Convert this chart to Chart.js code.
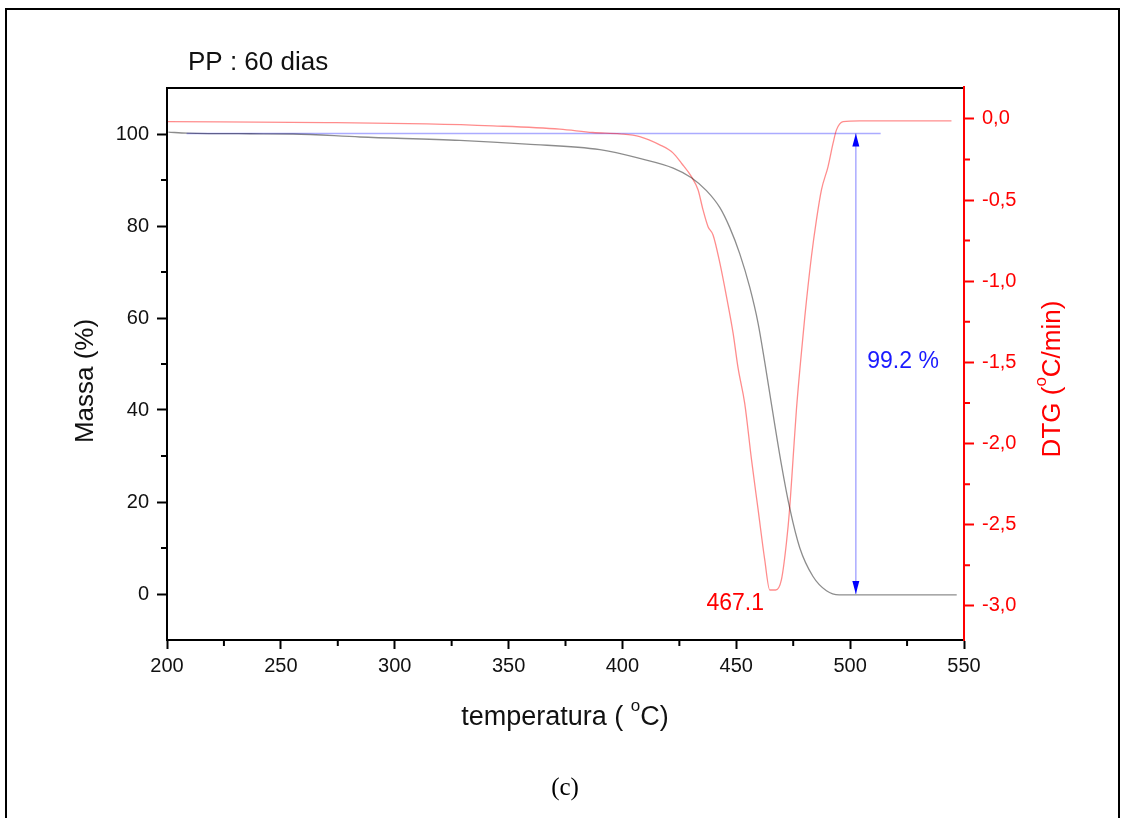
<!DOCTYPE html>
<html>
<head>
<meta charset="utf-8">
<script src="https://cdn.jsdelivr.net/npm/chart.js@4"></script>
<style>
  html, body { margin: 0; padding: 0; background: #fff; }
  #wrap { width: 1124px; height: 818px; }
</style>
</head>
<body>
<div id="wrap"><canvas id="tga" width="1124" height="818"></canvas></div>
<script>
// temperature axis (°C)
const xTicks = [200, 250, 300, 350, 400, 450, 500, 550];
const xMinor = [225, 275, 325, 375, 425, 475, 525];
const massTicks = [0, 20, 40, 60, 80, 100];
const massMinor = [10, 30, 50, 70, 90];
const dtgTicks = [-3.0, -2.5, -2.0, -1.5, -1.0, -0.5, 0.0];
const dtgMinor = [-2.75, -2.25, -1.75, -1.25, -0.75, -0.25];

// TG curve (Massa %)
const massT = [200.6, 208.8, 236.4, 255.3, 284.7, 328.6, 357.9, 390.1, 407.6, 422.3, 430.3, 436.9, 442.8, 447.1, 451.5, 455.9, 459.6, 462.5, 465.5, 469.8, 473.5, 477.9, 483.7, 489.6, 495.2, 546.8];
const massVal = [100.4, 100.2, 100.05, 100.0, 99.35, 98.6, 97.8, 96.6, 94.7, 92.6, 90.5, 87.7, 84.0, 79.7, 74.0, 66.7, 58.8, 50.4, 41.1, 28.2, 18.6, 10.0, 3.8, 0.7, -0.2, -0.2];

// DTG curve
const dtgT = [200.4, 270.2, 314.1, 343.1, 372.5, 387.0, 398.9, 407.6, 416.4, 422.3, 425.9, 430.3, 433.2, 435.4, 437.6, 439.8, 442.8, 445.7, 448.6, 450.8, 453.7, 456.7, 459.6, 462.5, 464.7, 467.3, 469.8, 472.0, 473.5, 474.9, 476.4, 478.3, 480.1, 483.0, 485.2, 487.4, 490.3, 492.5, 494.0, 496.9, 504.2, 544.5];
const dtgVal = [-0.017, -0.023, -0.031, -0.043, -0.063, -0.084, -0.092, -0.109, -0.160, -0.211, -0.273, -0.356, -0.437, -0.561, -0.664, -0.715, -0.889, -1.095, -1.320, -1.536, -1.752, -2.101, -2.409, -2.717, -2.902, -2.902, -2.840, -2.614, -2.389, -2.101, -1.793, -1.485, -1.218, -0.848, -0.622, -0.437, -0.294, -0.150, -0.068, -0.017, -0.012, -0.012];

// mass loss marker
const refT = [208.6, 513.4];
const refLevel = 100.1;
const arrowT = 502.5;
const arrowEnd = 0.0;
const lossLabel = '99.2 %';
const peakLabel = '467.1';

const FONT = '"Liberation Sans", Arial, sans-serif';
const toXY = (xs, ys) => xs.map((x, i) => ({ x: x, y: ys[i] }));
const fixTicks = vals => scale => { scale.ticks = vals.map(v => ({ value: v })); };

function minorTicks(ctx, scale, vals, len, color, side) {
  ctx.strokeStyle = color;
  ctx.lineWidth = 2;
  ctx.beginPath();
  vals.forEach(v => {
    const p = scale.getPixelForValue(v);
    if (side === 'bottom') { ctx.moveTo(p, scale.top); ctx.lineTo(p, scale.top + len); }
    if (side === 'left') { ctx.moveTo(scale.right, p); ctx.lineTo(scale.right - len, p); }
    if (side === 'right') { ctx.moveTo(scale.left, p); ctx.lineTo(scale.left + len, p); }
  });
  ctx.stroke();
}

function arrowHead(ctx, x, y, dir) {
  ctx.beginPath();
  ctx.moveTo(x, y);
  ctx.lineTo(x - 3.5, y - dir * 13);
  ctx.lineTo(x + 3.5, y - dir * 13);
  ctx.closePath();
  ctx.fill();
}

// text with a raised small "o" for the degree sign
function richText(ctx, parts, cx, base, rot, color) {
  ctx.save();
  ctx.translate(cx, base);
  ctx.rotate(rot);
  ctx.fillStyle = color;
  ctx.textBaseline = 'alphabetic';
  ctx.textAlign = 'left';
  let w = 0;
  parts.forEach(p => { ctx.font = p.size + 'px ' + FONT; p.w = ctx.measureText(p.t).width; w += p.w; });
  let x = -w / 2;
  parts.forEach(p => { ctx.font = p.size + 'px ' + FONT; ctx.fillText(p.t, x, p.dy || 0); x += p.w; });
  ctx.restore();
}

const decor = {
  id: 'decor',
  afterDraw(chart) {
    const { ctx, chartArea: a, scales } = chart;
    const sx = scales.x, sy = scales.y;
    ctx.save();

    // frame line on top of the plot
    ctx.strokeStyle = '#000';
    ctx.lineWidth = 2;
    ctx.beginPath();
    ctx.moveTo(a.left - 1, a.top);
    ctx.lineTo(a.right, a.top);
    ctx.stroke();
    ctx.strokeStyle = '#ff0000';
    ctx.beginPath();
    ctx.moveTo(a.right, a.top - 2);
    ctx.lineTo(a.right, a.bottom);
    ctx.stroke();

    minorTicks(ctx, sx, xMinor, 6, '#000', 'bottom');
    minorTicks(ctx, sy, massMinor, 6, '#000', 'left');
    minorTicks(ctx, scales.y2, dtgMinor, 6, '#ff0000', 'right');

    // arrow heads
    ctx.fillStyle = '#0000ff';
    arrowHead(ctx, sx.getPixelForValue(arrowT), sy.getPixelForValue(refLevel), -1);
    arrowHead(ctx, sx.getPixelForValue(arrowT), sy.getPixelForValue(arrowEnd), 1);

    // annotations
    ctx.font = '23px ' + FONT;
    ctx.textBaseline = 'alphabetic';
    ctx.textAlign = 'left';
    ctx.fillStyle = '#1a1aff';
    ctx.fillText(lossLabel, sx.getPixelForValue(507.5), sy.getPixelForValue(49.1));
    ctx.fillStyle = '#ff0000';
    ctx.fillText(peakLabel, sx.getPixelForValue(436.9), sy.getPixelForValue(-3.4));

    // title
    ctx.fillStyle = '#111';
    ctx.font = '26px ' + FONT;
    ctx.fillText('PP : 60 dias', 188, 70);

    // axis titles
    richText(ctx, [{ t: 'temperatura ( ', size: 27 }, { t: 'o', size: 17, dy: -14 }, { t: 'C)', size: 27 }], 565, 725, 0, '#111');
    richText(ctx, [{ t: 'Massa (%)', size: 26 }], 93, 381, -Math.PI / 2, '#111');
    richText(ctx, [{ t: 'DTG (', size: 26 }, { t: 'o', size: 17, dy: -14 }, { t: 'C/min)', size: 26 }], 1060, 379, -Math.PI / 2, '#ff0000');

    // caption
    ctx.fillStyle = '#000';
    ctx.font = '25px "Liberation Serif", "Times New Roman", serif';
    ctx.textAlign = 'center';
    ctx.fillText('(c)', 565, 795);

    // outer frame of the figure
    ctx.strokeStyle = '#000';
    ctx.lineWidth = 2;
    ctx.strokeRect(6, 9, 1113, 830);
    ctx.restore();
  }
};

const ctx = document.getElementById('tga').getContext('2d');

const chart = new Chart(ctx, {
  type: 'line',
  data: {
    datasets: [
      {
        label: 'Massa',
        data: toXY(massT, massVal),
        yAxisID: 'y',
        borderColor: 'rgba(0,0,0,0.45)',
        borderWidth: 1.3,
        pointRadius: 0,
        cubicInterpolationMode: 'monotone'
      },
      {
        label: 'DTG',
        data: toXY(dtgT, dtgVal),
        yAxisID: 'y2',
        borderColor: 'rgba(255,0,0,0.45)',
        borderWidth: 1.3,
        pointRadius: 0,
        cubicInterpolationMode: 'monotone'
      },
      {
        label: 'ref',
        data: toXY(refT, [refLevel, refLevel]),
        yAxisID: 'y',
        borderColor: 'rgba(0,0,255,0.33)',
        borderWidth: 1.5,
        pointRadius: 0
      },
      {
        label: 'loss',
        data: toXY([arrowT, arrowT], [refLevel, arrowEnd]),
        yAxisID: 'y',
        borderColor: 'rgba(0,0,255,0.33)',
        borderWidth: 1.5,
        pointRadius: 0
      }
    ]
  },
  options: {
    responsive: false,
    animation: false,
    layout: { padding: { top: 88, left: 0, right: 0, bottom: 0 } },
    plugins: {
      legend: { display: false },
      tooltip: { enabled: false }
    },
    scales: {
      x: {
        type: 'linear',
        min: 200,
        max: 550,
        afterBuildTicks: fixTicks(xTicks),
        afterFit: s => { s.height = 178; },
        grid: { drawOnChartArea: false, tickLength: 9, tickColor: '#000', tickWidth: 2 },
        border: { color: '#000', width: 2 },
        ticks: { font: { family: FONT, size: 20 }, color: '#111', padding: 5, maxRotation: 0, autoSkip: false }
      },
      y: {
        position: 'left',
        min: -10,
        max: 110,
        afterBuildTicks: fixTicks(massTicks),
        afterFit: s => { s.width = 167; },
        grid: { drawOnChartArea: false, tickLength: 10, tickColor: '#000', tickWidth: 2 },
        border: { color: '#000', width: 2 },
        ticks: { font: { family: FONT, size: 20 }, color: '#111', padding: 8, autoSkip: false }
      },
      y2: {
        position: 'right',
        min: -3.21,
        max: 0.19,
        afterBuildTicks: fixTicks(dtgTicks),
        afterFit: s => { s.width = 160; },
        grid: { drawOnChartArea: false, tickLength: 10, tickColor: '#ff0000', tickWidth: 2 },
        border: { color: '#ff0000', width: 2 },
        ticks: {
          font: { family: FONT, size: 20 },
          color: '#ff0000',
          padding: 8,
          autoSkip: false,
          callback: v => v.toFixed(1).replace('.', ',')
        }
      }
    }
  },
  plugins: [decor]
});
</script>
</body>
</html>
